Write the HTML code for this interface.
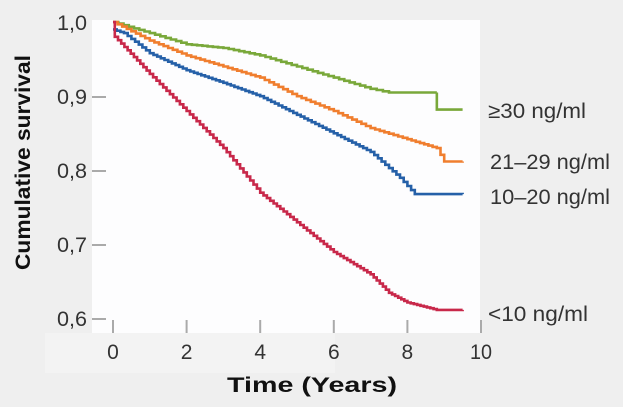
<!DOCTYPE html>
<html><head><meta charset="utf-8"><style>
html,body{margin:0;padding:0;background:#efefef;}
svg{display:block;font-family:"Liberation Sans",sans-serif;}
</style></head><body>
<svg id="s" width="623" height="407" viewBox="0 0 623 407">
<rect width="623" height="407" fill="#efefef"/>
<rect x="45" y="333" width="290" height="40" fill="#f3f3f3"/>
<rect x="92" y="20" width="388" height="313" fill="#fdfdfe"/>
<g fill="#333" font-size="21" text-anchor="end" lengthAdjust="spacingAndGlyphs">
<text x="87" y="30" textLength="30" lengthAdjust="spacingAndGlyphs">1,0</text>
<text x="87" y="104" textLength="30" lengthAdjust="spacingAndGlyphs">0,9</text>
<text x="87" y="178" textLength="30" lengthAdjust="spacingAndGlyphs">0,8</text>
<text x="87" y="252" textLength="30" lengthAdjust="spacingAndGlyphs">0,7</text>
<text x="87" y="326" textLength="30" lengthAdjust="spacingAndGlyphs">0,6</text>
</g>
<g stroke="#aaa" stroke-width="2">
<line x1="92" y1="97" x2="106" y2="97"/><line x1="92" y1="171" x2="106" y2="171"/>
<line x1="92" y1="245" x2="106" y2="245"/><line x1="92" y1="319" x2="106" y2="319"/>
<line x1="113" y1="320" x2="113" y2="333"/><line x1="186.6" y1="320" x2="186.6" y2="333"/>
<line x1="260.2" y1="320" x2="260.2" y2="333"/><line x1="333.8" y1="320" x2="333.8" y2="333"/>
<line x1="407.4" y1="320" x2="407.4" y2="333"/><line x1="481" y1="320" x2="481" y2="333"/>
</g>
<g fill="#333" font-size="21" text-anchor="middle">
<text x="113" y="359">0</text><text x="186.6" y="359">2</text><text x="260.2" y="359">4</text>
<text x="333.8" y="359">6</text><text x="407.4" y="359">8</text><text x="481" y="359" textLength="22" lengthAdjust="spacingAndGlyphs">10</text>
</g>
<text x="227" y="392" font-size="21" font-weight="bold" fill="#111" textLength="170" lengthAdjust="spacingAndGlyphs">Time (Years)</text>
<text transform="translate(30,270) rotate(-90)" font-size="21" font-weight="bold" fill="#111" textLength="215" lengthAdjust="spacingAndGlyphs">Cumulative survival</text>
<g fill="#333" font-size="21">
<text x="488" y="118" textLength="98" lengthAdjust="spacingAndGlyphs">≥30 ng/ml</text>
<text x="490" y="169" textLength="120" lengthAdjust="spacingAndGlyphs">21–29 ng/ml</text>
<text x="490" y="204" textLength="120" lengthAdjust="spacingAndGlyphs">10–20 ng/ml</text>
<text x="488" y="321" textLength="100" lengthAdjust="spacingAndGlyphs">&lt;10 ng/ml</text>
</g>
<g id="curves" fill="none" stroke-width="2.6"></g>
</svg>
<script>
function X(t){return 113+36.8*t;}
function Y(v){return 22+(1-v)*742;}
var series=[
 ["#79a83a",[[0,1],[1,0.985],[2,0.97],[3,0.965],[4,0.955],[5,0.94],[6,0.925],[7,0.91],[7.5,0.905],[8.8,0.905],[8.8,0.882],[9.5,0.882]],0.15],
 ["#f07e2e",[[0,1],[1,0.975],[2,0.955],[3,0.94],[4,0.925],[5,0.9],[6,0.88],[7,0.857],[8,0.842],[8.8,0.83],[9.0,0.812],[9.5,0.812]],0.12],
 ["#2560a8",[[0,0.99],[0.3,0.985],[1,0.958],[2,0.935],[3,0.918],[4,0.9],[5,0.875],[6,0.85],[7,0.825],[7.8,0.79],[8.2,0.768],[9.5,0.768]],0.1],
 ["#c8284a",[[0,1],[0.05,0.98],[1,0.93],[2,0.88],[3,0.83],[4,0.77],[5,0.73],[6,0.69],[7,0.66],[7.5,0.635],[8,0.622],[8.8,0.612],[9.5,0.612]],0.09]
];
var g=document.getElementById('curves'),ns='http://www.w3.org/2000/svg';
series.forEach(function(s){
 var pts=s[1],step=s[2],d='M'+X(pts[0][0])+','+Y(pts[0][1]);
 for(var i=1;i<pts.length;i++){
  var a=pts[i-1],b=pts[i];
  if(b[0]-a[0]<0.01||a[1]==b[1]){d+=' H'+X(b[0])+' V'+Y(b[1]);continue;}
  var n=Math.max(1,Math.round((b[0]-a[0])/step));
  for(var k=1;k<=n;k++){var t=a[0]+(b[0]-a[0])*k/n,v=a[1]+(b[1]-a[1])*k/n;d+=' H'+X(t).toFixed(1)+' V'+Y(v).toFixed(1);}
 }
 var p=document.createElementNS(ns,'path');p.setAttribute('d',d);p.setAttribute('stroke',s[0]);g.appendChild(p);
});
</script>
</body></html>
